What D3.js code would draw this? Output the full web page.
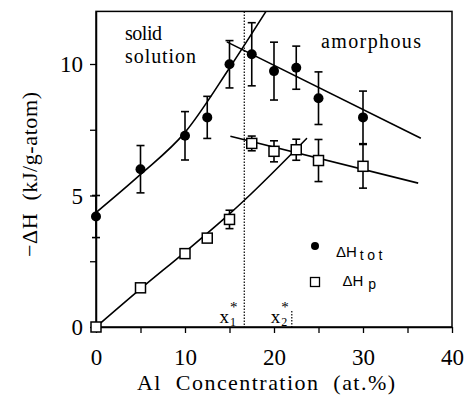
<!DOCTYPE html>
<html>
<head>
<meta charset="utf-8">
<script src="https://cdn.jsdelivr.net/npm/d3@7/dist/d3.min.js"></script>
<style>
  html, body { margin: 0; padding: 0; background: #fff; }
  svg { display: block; }
  text { fill: #000; }
  .serif { font-family: "Liberation Serif", "Times New Roman", serif; }
  .sans { font-family: "Liberation Sans", Arial, sans-serif; }
</style>
</head>
<body>
<svg id="chart" width="465" height="400"></svg>
<script>
// ---------- data ----------
const conc = [0, 5, 10, 12.5, 15, 17.5, 20, 22.5, 25, 30];
const hTot = [4.2, 6.0, 7.27, 7.97, 9.99, 10.37, 9.73, 9.86, 8.7, 7.97];
const hTotErr = [0.8, 0.9, 0.92, 0.8, 0.9, 1.2, 1.1, 0.82, 1.0, 1.0];
const hP = [0.0, 1.49, 2.79, 3.38, 4.09, 6.98, 6.68, 6.74, 6.33, 6.11];
const hPErr = [0, 0.1, 0.1, 0.15, 0.35, 0.28, 0.4, 0.4, 0.8, 0.83];

// fitted curves
const fitTotSolidX = [0, 5, 10, 15, 19.1];
const fitTotSolidY = [4.35, 5.8, 7.4, 9.85, 12.0];
const fitTotAmorX = [14.7, 36.5];
const fitTotAmorY = [10.84, 7.18];
const fitPSolidX = [0, 5, 10, 15, 16.7, 23.7];
const fitPSolidY = [0, 1.45, 2.85, 4.3, 4.83, 7.18];
const fitPAmorX = [15.1, 36.2];
const fitPAmorY = [7.25, 5.47];

const x1Star = 16.66;
const x2Star = 22.0;

const xTicks = [0, 5, 10, 15, 20, 25, 30, 35, 40];
const xTickLabels = ["0", "", "10", "", "20", "", "30", "", "40"];
const yTicks = [0, 2.5, 5, 7.5, 10];
const yTickLabels = ["0", "", "5", "", "10"];

// ---------- layout ----------
const svg = d3.select("#chart");
const L = 96, R = 452, T = 11.4, B = 327;
const x = d3.scaleLinear().domain([0, 40]).range([L, R]);
const y = d3.scaleLinear().domain([0, 12]).range([B, T]);

svg.append("defs").append("clipPath").attr("id", "plotclip")
  .append("rect").attr("x", L).attr("y", T).attr("width", R - L).attr("height", B - T);

// frame
svg.append("rect").attr("x", L).attr("y", T).attr("width", R - L).attr("height", B - T)
  .attr("fill", "none").attr("stroke", "#000").attr("stroke-width", 1.5);

// axes
const xAxis = d3.axisBottom(x).tickValues(xTicks)
  .tickFormat((d, i) => xTickLabels[i]).tickSize(6).tickSizeOuter(0);
const gx = svg.append("g").attr("transform", `translate(0,${B})`).call(xAxis);
gx.attr("font-family", null);
gx.select(".domain").attr("stroke-width", 1.5);
gx.selectAll(".tick line").attr("stroke-width", 1.3);
gx.selectAll(".tick text").attr("class", "serif")
  .attr("font-size", 23).attr("y", 38).attr("dy", 0);

const yAxis = d3.axisLeft(y).tickValues(yTicks)
  .tickFormat((d, i) => yTickLabels[i]).tickSize(6).tickSizeOuter(0);
const gy = svg.append("g").attr("transform", `translate(${L},0)`).call(yAxis);
gy.attr("font-family", null);
gy.select(".domain").attr("stroke-width", 1.5);
gy.selectAll(".tick line").attr("stroke-width", 1.3);
gy.selectAll(".tick text").attr("class", "serif")
  .attr("font-size", 23).attr("x", -13).attr("dy", "0.33em");

// axis titles
svg.append("text").attr("class", "serif")
  .attr("x", 137).attr("y", 390)
  .attr("font-size", 22)
  .attr("textLength", 258).attr("lengthAdjust", "spacing")
  .style("white-space", "pre")
  .text("Al  Concentration  (at.%)");

svg.append("text").attr("class", "serif")
  .attr("transform", "translate(37,257) rotate(-90)")
  .attr("font-size", 22)
  .attr("textLength", 165).attr("lengthAdjust", "spacing")
  .style("white-space", "pre")
  .text("\u2212\u0394H  (kJ/g-atom)");

// region labels
svg.append("text").attr("class", "serif").attr("x", 125).attr("y", 40).attr("font-size", 20)
  .attr("textLength", 37).attr("lengthAdjust", "spacing").text("solid");
svg.append("text").attr("class", "serif").attr("x", 125).attr("y", 63).attr("font-size", 20)
  .attr("textLength", 71).attr("lengthAdjust", "spacing").text("solution");
svg.append("text").attr("class", "serif").attr("x", 321).attr("y", 48).attr("font-size", 20)
  .attr("textLength", 100).attr("lengthAdjust", "spacing").text("amorphous");

// x* markers
svg.append("line").attr("x1", x(x1Star)).attr("x2", x(x1Star)).attr("y1", T).attr("y2", B)
  .attr("stroke", "#000").attr("stroke-width", 1.2).attr("stroke-dasharray", "1.5,1.5");
svg.append("line").attr("x1", x(x2Star)).attr("x2", x(x2Star)).attr("y1", 311).attr("y2", B)
  .attr("stroke", "#000").attr("stroke-width", 1.2).attr("stroke-dasharray", "1.5,1.5");

function starLabel(xs, sub) {
  const t = svg.append("text").attr("class", "serif").attr("x", xs).attr("y", 322.5).attr("font-size", 19);
  t.append("tspan").text("x");
  t.append("tspan").attr("font-size", 15).attr("dy", -11).attr("dx", 1).text("*");
  t.append("tspan").attr("font-size", 12).attr("dy", 14.5).attr("dx", -7.5).text(sub);
}
starLabel(219.5, "1");
starLabel(270.7, "2");

// fit lines
const plot = svg.append("g").attr("clip-path", "url(#plotclip)");
function fitLine(xs, ys, curve) {
  const pts = xs.map((v, i) => [v, ys[i]]);
  plot.append("path").datum(pts)
    .attr("d", d3.line().x(d => x(d[0])).y(d => y(d[1])).curve(curve))
    .attr("fill", "none").attr("stroke", "#000").attr("stroke-width", 1.6);
}
fitLine(fitTotSolidX, fitTotSolidY, d3.curveMonotoneX);
fitLine(fitTotAmorX, fitTotAmorY, d3.curveLinear);
fitLine(fitPSolidX, fitPSolidY, d3.curveMonotoneX);
fitLine(fitPAmorX, fitPAmorY, d3.curveLinear);

// error bars
function errBars(vals, errs) {
  conc.forEach((c, i) => {
    if (!errs[i]) return;
    const cx = x(c), top = y(vals[i] + errs[i]), bot = y(vals[i] - errs[i]);
    const g = svg.append("g").attr("stroke", "#000").attr("stroke-width", 1.6);
    g.append("line").attr("x1", cx).attr("x2", cx).attr("y1", top).attr("y2", bot);
    g.append("line").attr("x1", cx - 4).attr("x2", cx + 4).attr("y1", top).attr("y2", top);
    g.append("line").attr("x1", cx - 4).attr("x2", cx + 4).attr("y1", bot).attr("y2", bot);
  });
}
errBars(hTot, hTotErr);
errBars(hP, hPErr);

// markers
svg.append("g").selectAll("circle").data(conc).join("circle")
  .attr("cx", d => x(d)).attr("cy", (d, i) => y(hTot[i])).attr("r", 5).attr("fill", "#000");
svg.append("g").selectAll("rect").data(conc).join("rect")
  .attr("x", d => x(d) - 5).attr("y", (d, i) => y(hP[i]) - 5)
  .attr("width", 10).attr("height", 10)
  .attr("fill", "#fff").attr("stroke", "#000").attr("stroke-width", 1.5);

// legend
svg.append("circle").attr("cx", 315).attr("cy", 246).attr("r", 4).attr("fill", "#000");
const lt1 = svg.append("text").attr("class", "sans").attr("x", 336).attr("y", 257).attr("font-size", 15);
lt1.append("tspan").text("\u0394H");
lt1.append("tspan").attr("font-size", 14).attr("dx", 3).attr("dy", 3)
  .attr("letter-spacing", 3.5).text("tot");
svg.append("rect").attr("x", 310.5).attr("y", 277.5).attr("width", 9).attr("height", 9)
  .attr("fill", "#fff").attr("stroke", "#000").attr("stroke-width", 1.3);
const lt2 = svg.append("text").attr("class", "sans").attr("x", 342.5).attr("y", 286).attr("font-size", 15);
lt2.append("tspan").text("\u0394H");
lt2.append("tspan").attr("font-size", 14).attr("dx", 5).attr("dy", 3).text("p");
</script>
</body>
</html>
